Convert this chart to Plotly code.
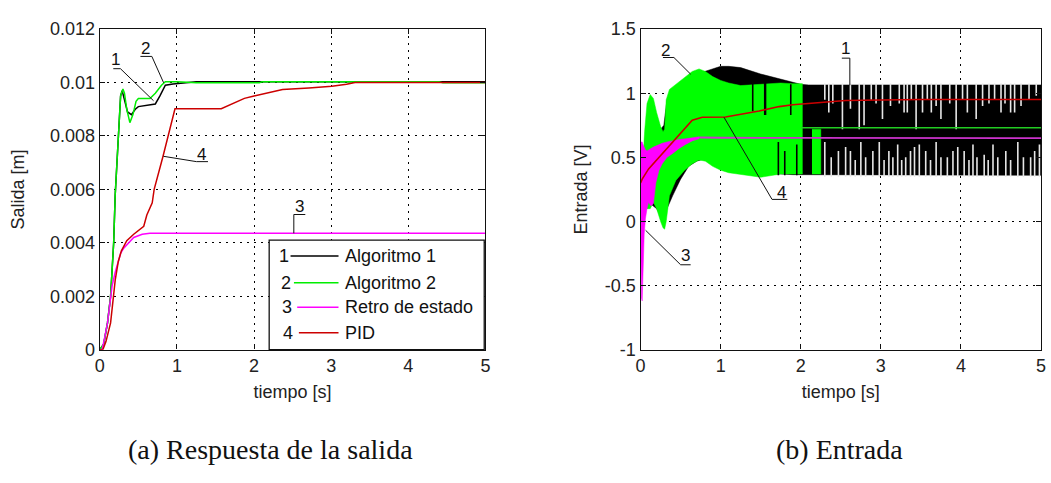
import plotly.graph_objects as go

# ---------------- (a) Respuesta de la salida ----------------
t_alg1 = [0, 0.05, 0.1, 0.14, 0.17, 0.18, 0.2, 0.22, 0.24, 0.27, 0.29, 0.32, 0.36, 0.41,
          0.46, 0.5, 0.72, 0.78, 0.85, 0.95, 1.1, 1.25, 5.0]
y_alg1 = [0, 0.0002, 0.001, 0.002, 0.0035, 0.004, 0.0058, 0.007, 0.008, 0.0095, 0.0097,
          0.0093, 0.0089, 0.0088, 0.009, 0.0091, 0.0092, 0.0095, 0.0099, 0.00995, 0.01,
          0.01003, 0.01003]

t_alg2 = [0, 0.05, 0.1, 0.14, 0.17, 0.18, 0.2, 0.22, 0.24, 0.27, 0.3, 0.32, 0.35, 0.39,
          0.43, 0.47, 0.5, 0.65, 0.72, 0.8, 0.85, 1.0, 1.25, 2.07, 2.1, 4.4, 4.45, 5.0]
y_alg2 = [0, 0.0002, 0.001, 0.002, 0.0035, 0.004, 0.0058, 0.007, 0.008, 0.0095, 0.00976,
          0.0096, 0.009, 0.0085, 0.0088, 0.0093, 0.0094, 0.0094, 0.0096, 0.0099, 0.01003,
          0.01003, 0.00999, 0.00999, 0.01003, 0.01003, 0.00999, 0.00999]

t_retro = [0, 0.03, 0.06, 0.1, 0.13, 0.16, 0.2, 0.23, 0.27, 0.31, 0.37, 0.44, 0.55, 0.65, 5.0]
y_retro = [0, 0, 0.0004, 0.001, 0.0017, 0.0024, 0.0029, 0.0032, 0.0036, 0.0038, 0.004,
           0.0042, 0.00432, 0.004357, 0.004357]

t_pid = [0, 0.04, 0.08, 0.11, 0.14, 0.17, 0.2, 0.24, 0.28, 0.35, 0.44, 0.57, 0.61, 0.68,
         0.705, 0.82, 0.975, 1.575, 1.875, 2.0, 2.37, 2.71, 3.01, 3.2, 3.31, 5.0]
y_pid = [0, 0, 0.0003, 0.0006, 0.001, 0.0018, 0.0026, 0.0033, 0.0037, 0.00408, 0.00432,
         0.00462, 0.00504, 0.0055, 0.006, 0.00724, 0.00902, 0.00902, 0.00941, 0.0095,
         0.00974, 0.0098, 0.00986, 0.00994, 0.01, 0.01]

# ---------------- (b) Entrada ----------------
# Algoritmo 1: envelope of the switching control signal
alg1_t = [0.03, 0.1, 0.2, 0.25, 0.29, 0.33, 0.4, 0.5, 0.6, 0.7, 0.8, 0.9, 1.0, 1.1, 1.25,
          1.5, 1.75, 1.9, 2.0, 2.1, 5.0]
alg1_hi = [0.5, 0.9, 0.75, 0.72, 0.75, 0.95, 1.0, 1.05, 1.1, 1.15, 1.17, 1.19, 1.21, 1.21,
           1.2, 1.15, 1.11, 1.09, 1.07, 1.065, 1.065]
alg1_lo = [0.3, 0.15, 0.1, 0.05, 0.0, 0.1, 0.2, 0.33, 0.43, 0.47, 0.49, 0.44, 0.41, 0.39,
           0.38, 0.37, 0.37, 0.365, 0.36, 0.36, 0.36]
# instants where the switching pauses (upper / lower half of the band)
pause_hi_t = [2.30, 2.35, 2.40, 2.52, 2.62, 2.73, 2.79, 2.88, 2.94, 3.02, 3.12, 3.23, 3.29,
              3.33, 3.38, 3.44, 3.52, 3.58, 3.63, 3.69, 3.75, 3.86, 3.94, 4.02, 4.08, 4.19,
              4.27, 4.35, 4.42, 4.50, 4.55, 4.62, 4.67, 4.75, 4.85, 4.94]
pause_hi_y = [0.95, 0.85, 0.92, 0.72, 0.88, 0.72, 0.75, 0.95, 0.92, 0.80, 0.90, 0.92, 0.85,
              0.85, 0.95, 0.72, 0.85, 0.95, 0.85, 0.90, 0.80, 0.92, 0.72, 0.95, 0.85, 0.80,
              0.90, 0.92, 0.95, 0.85, 0.92, 0.85, 0.85, 0.90, 0.95, 0.98]
pause_lo_t = [2.30, 2.38, 2.47, 2.56, 2.62, 2.68, 2.75, 2.81, 2.90, 2.98, 3.04, 3.10, 3.15,
              3.21, 3.26, 3.31, 3.37, 3.42, 3.48, 3.56, 3.62, 3.69, 3.75, 3.83, 3.90, 3.96,
              4.04, 4.10, 4.15, 4.20, 4.29, 4.34, 4.40, 4.46, 4.56, 4.62, 4.71, 4.78, 4.87,
              4.92, 4.98]
pause_lo_y = [0.62, 0.50, 0.55, 0.58, 0.55, 0.48, 0.62, 0.50, 0.55, 0.62, 0.48, 0.55, 0.50,
              0.60, 0.48, 0.50, 0.55, 0.58, 0.60, 0.55, 0.48, 0.62, 0.50, 0.50, 0.55, 0.58,
              0.55, 0.48, 0.60, 0.50, 0.52, 0.48, 0.60, 0.50, 0.55, 0.48, 0.62, 0.50, 0.50,
              0.55, 0.60]

# Algoritmo 2
alg2_t = [0.03, 0.05, 0.08, 0.12, 0.16, 0.2, 0.25, 0.28, 0.3, 0.32, 0.36, 0.44, 0.55,
          0.645, 0.73, 0.81, 0.9, 1.0, 1.1, 1.25, 1.5, 1.75, 1.9, 2.02]
alg2_hi = [0.45, 0.7, 0.92, 0.99, 0.96, 0.85, 0.74, 0.70, 0.72, 0.95, 1.03, 1.07, 1.12,
           1.17, 1.19, 1.17, 1.13, 1.10, 1.08, 1.06, 1.07, 1.08, 1.075, 1.075]
alg2_lo = [0.25, 0.12, 0.10, 0.10, 0.15, 0.10, 0.0, -0.05, -0.06, 0.0, 0.2, 0.32, 0.40,
           0.45, 0.48, 0.47, 0.43, 0.40, 0.38, 0.365, 0.345, 0.37, 0.37, 0.37]
alg2_tail_t = [2.14, 2.25]
alg2_tail_hi = [0.72, 0.72]
alg2_tail_lo = [0.37, 0.37]
alg2_ss_t = [2.0, 5.0]
alg2_ss_y = [0.731, 0.731]
# short intervals where Algoritmo 2 leaves Algoritmo 1 uncovered
alg2_open_t = [1.40, 1.55, 1.56, 1.72, 1.80, 1.875, 1.95]
alg2_open_lo = [0.86, 0.83, 0.83, 0.36, 0.36, 0.83, 0.36]
alg2_open_hi = [1.11, 1.11, 1.11, 0.62, 0.55, 1.07, 0.60]

# Retro de estado
retro_t = [0.0, 0.005, 0.012, 0.02, 0.03, 0.045, 0.06, 0.08, 0.1, 0.13, 0.16, 0.19, 0.23,
           0.27, 0.33, 0.4, 0.48, 0.56, 0.65, 0.73]
retro_hi = [0.62, 0.62, 0.62, 0.62, 0.6, 0.58, 0.56, 0.55, 0.56, 0.57, 0.58, 0.59, 0.6,
            0.61, 0.62, 0.63, 0.64, 0.645, 0.655, 0.66]
retro_lo = [0.55, -0.3, -0.6, -0.62, -0.45, -0.1, 0.02, 0.1, 0.15, 0.12, 0.14, 0.3, 0.4,
            0.45, 0.5, 0.53, 0.57, 0.6, 0.63, 0.645]
retro_ss_t = [0.73, 1.0, 2.0, 3.0, 4.0, 5.0]
retro_ss_y = [0.655, 0.653, 0.652, 0.652, 0.652, 0.65]

# PID
pid_u_t = [0, 0.02, 0.1, 0.23, 0.44, 0.645, 0.77, 1.06, 1.48, 1.73, 1.9, 2.02, 2.56, 3.0,
           3.5, 5.0]
pid_u_y = [0.3, 0.33, 0.41, 0.50, 0.65, 0.79, 0.813, 0.815, 0.862, 0.896, 0.91, 0.915,
           0.943, 0.948, 0.951, 0.951]

BLACK = "#000000"
GREEN = "#00ee00"
GREEN_FILL = "#00ff00"
MAGENTA = "#ff00ff"
RED = "#cc0000"


def band(t, hi, lo):
    return list(t) + list(t)[::-1], list(hi) + list(lo)[::-1]


def segments(ts, y0s, y1s):
    xs, ys = [], []
    for t, a, b in zip(ts, y0s, y1s):
        xs += [t, t, None]
        ys += [a, b, None]
    return xs, ys


fig = go.Figure()

# left panel curves
for t, y, c in [(t_alg1, y_alg1, BLACK), (t_alg2, y_alg2, GREEN),
                (t_retro, y_retro, MAGENTA), (t_pid, y_pid, RED)]:
    fig.add_trace(go.Scatter(x=t, y=y, mode="lines", line=dict(color=c, width=1.5),
                             xaxis="x", yaxis="y", showlegend=False, hoverinfo="skip"))

# right panel
bx, by = band(alg1_t, alg1_hi, alg1_lo)
fig.add_trace(go.Scatter(x=bx, y=by, fill="toself", fillcolor=BLACK, mode="lines",
                         line=dict(color=BLACK, width=0.5), xaxis="x2", yaxis="y2",
                         showlegend=False, hoverinfo="skip"))
top, bottom = alg1_hi[-1] + 0.012, alg1_lo[-1] - 0.012
px_, py_ = segments(pause_hi_t, [top] * len(pause_hi_t), pause_hi_y)
qx_, qy_ = segments(pause_lo_t, [bottom] * len(pause_lo_t), pause_lo_y)
fig.add_trace(go.Scatter(x=px_ + qx_, y=py_ + qy_, mode="lines",
                         line=dict(color="#e6e6e6", width=1.6), xaxis="x2", yaxis="y2",
                         showlegend=False, hoverinfo="skip"))

gx, gy = band(alg2_t, alg2_hi, alg2_lo)
fig.add_trace(go.Scatter(x=gx, y=gy, fill="toself", fillcolor=GREEN_FILL, mode="lines",
                         line=dict(color=GREEN_FILL, width=0.5), xaxis="x2", yaxis="y2",
                         showlegend=False, hoverinfo="skip"))
gx2, gy2 = band(alg2_tail_t, alg2_tail_hi, alg2_tail_lo)
fig.add_trace(go.Scatter(x=gx2, y=gy2, fill="toself", fillcolor=GREEN_FILL, mode="lines",
                         line=dict(color=GREEN_FILL, width=0.5), xaxis="x2", yaxis="y2",
                         showlegend=False, hoverinfo="skip"))
fig.add_trace(go.Scatter(x=alg2_ss_t, y=alg2_ss_y, mode="lines",
                         line=dict(color="#22cc22", width=1.5), xaxis="x2", yaxis="y2",
                         showlegend=False, hoverinfo="skip"))
ox, oy = segments(alg2_open_t, alg2_open_lo, alg2_open_hi)
fig.add_trace(go.Scatter(x=ox, y=oy, mode="lines", line=dict(color=BLACK, width=1.6),
                         xaxis="x2", yaxis="y2", showlegend=False, hoverinfo="skip"))

mx, my = band(retro_t, retro_hi, retro_lo)
fig.add_trace(go.Scatter(x=mx, y=my, fill="toself", fillcolor=MAGENTA, mode="lines",
                         line=dict(color=MAGENTA, width=0.5), xaxis="x2", yaxis="y2",
                         showlegend=False, hoverinfo="skip"))
fig.add_trace(go.Scatter(x=retro_ss_t, y=retro_ss_y, mode="lines",
                         line=dict(color="#cc33cc", width=1.8), xaxis="x2", yaxis="y2",
                         showlegend=False, hoverinfo="skip"))
fig.add_trace(go.Scatter(x=pid_u_t, y=pid_u_y, mode="lines", line=dict(color=RED, width=1.6),
                         xaxis="x2", yaxis="y2", showlegend=False, hoverinfo="skip"))

TICK_FONT = dict(family="Liberation Sans, Arial, sans-serif", size=18, color="#222222")
TITLE_FONT = dict(family="Liberation Sans, Arial, sans-serif", size=18, color="#222222")
W, H = 1051, 483


def axis_style(**kw):
    d = dict(showline=True, linecolor="#111111", linewidth=1.3, mirror="ticks",
             ticks="inside", ticklen=5, tickcolor="#111111", tickwidth=1,
             showgrid=True, gridcolor="#000000", gridwidth=1, griddash="2px,5px",
             zeroline=False, tickfont=TICK_FONT, fixedrange=True)
    d.update(kw)
    return d


yd = [(H - 354.3) / H, (H - 20) / H]
fig.update_layout(
    width=W, height=H, margin=dict(l=0, r=0, t=0, b=0),
    paper_bgcolor="white", plot_bgcolor="white", showlegend=False,
    xaxis=axis_style(domain=[95.7 / W, 485 / W], range=[0, 5], tickvals=[0, 1, 2, 3, 4, 5],
                     title=dict(text="tiempo [s]", font=TITLE_FONT, standoff=10)),
    yaxis=axis_style(domain=yd, range=[0, 0.012],
                     tickvals=[0, 0.002, 0.004, 0.006, 0.008, 0.01, 0.012],
                     ticktext=["0", "0.002", "0.004", "0.006", "0.008", "0.01", "0.012"],
                     title=dict(text="Salida [m]", font=TITLE_FONT, standoff=20)),
    xaxis2=axis_style(domain=[641.7 / W, 1046 / W], range=[0, 5], anchor="y2",
                      tickvals=[0, 1, 2, 3, 4, 5],
                      title=dict(text="tiempo [s]", font=TITLE_FONT, standoff=10)),
    yaxis2=axis_style(domain=yd, range=[-1, 1.5], anchor="x2",
                      tickvals=[-1, -0.5, 0, 0.5, 1, 1.5],
                      ticktext=["-1", "-0.5", "0", "0.5", "1", "1.5"],
                      title=dict(text="Entrada [V]", font=TITLE_FONT, standoff=12)),
)

shapes = []
annots = []
LBL = dict(family="Liberation Sans, Arial, sans-serif", size=17, color="#111111")


def leader(xref, yref, pts):
    for (x0, y0), (x1, y1) in zip(pts[:-1], pts[1:]):
        shapes.append(dict(type="line", xref=xref, yref=yref, x0=x0, y0=y0, x1=x1, y1=y1,
                           line=dict(color="#111111", width=1)))


def label(xref, yref, x, y, txt):
    annots.append(dict(xref=xref, yref=yref, x=x, y=y, text=txt, showarrow=False,
                       font=LBL, xanchor="center", yanchor="middle"))


# curve labels, left panel
label("x", "y", 0.205, 0.01087, "1")
leader("x", "y", [(0.175, 0.01052), (0.268, 0.01052), (0.697, 0.00932)])
label("x", "y", 0.59, 0.01127, "2")
leader("x", "y", [(0.527, 0.01098), (0.675, 0.01098), (0.825, 0.01001)])
label("x", "y", 1.317, 0.0073, "4")
leader("x", "y", [(0.825, 0.00724), (1.253, 0.00704), (1.403, 0.00704)])
label("x", "y", 2.59, 0.00537, "3")
leader("x", "y", [(2.665, 0.00506), (2.516, 0.00506), (2.516, 0.004357)])

# curve labels, right panel
label("x2", "y2", 0.3125, 1.336, "2")
leader("x2", "y2", [(0.279, 1.279), (0.416, 1.279), (0.625, 1.149)])
label("x2", "y2", 2.5625, 1.349, "1")
leader("x2", "y2", [(2.5125, 1.274), (2.6125, 1.274), (2.6125, 1.063)])
label("x2", "y2", 1.754, 0.229, "4")
leader("x2", "y2", [(1.041, 0.813), (1.641, 0.172), (1.8325, 0.172)])
label("x2", "y2", 0.5625, -0.269, "3")
leader("x2", "y2", [(0.0625, -0.069), (0.5, -0.338), (0.625, -0.338)])

# legend box inside the left panel
shapes.append(dict(type="rect", xref="x domain", yref="y domain", x0=0.4393, x1=0.997,
                   y0=0.0, y1=0.342, line=dict(color="#111111", width=1.3),
                   fillcolor="white", layer="above"))
leg_names = ["Algoritmo 1", "Algoritmo 2", "Retro de estado", "PID"]
leg_colors = [BLACK, GREEN, MAGENTA, RED]
leg_rows = [0.292, 0.209, 0.1325, 0.0526]
leg_num_x = [0.4773, 0.4824, 0.4862, 0.4888]
leg_line_x0 = [0.4947, 0.5035, 0.5119, 0.5163]
LEG_FONT = dict(family="Liberation Sans, Arial, sans-serif", size=18, color="#111111")
for i, (name, col, yr) in enumerate(zip(leg_names, leg_colors, leg_rows)):
    annots.append(dict(xref="x domain", yref="y domain", x=leg_num_x[i], y=yr,
                       text=str(i + 1), showarrow=False, font=LEG_FONT,
                       xanchor="center", yanchor="middle"))
    shapes.append(dict(type="line", xref="x domain", yref="y domain", x0=leg_line_x0[i],
                       x1=0.6191, y0=yr, y1=yr, line=dict(color=col, width=1.5),
                       layer="above"))
    annots.append(dict(xref="x domain", yref="y domain", x=0.6319, y=yr, text=name,
                       showarrow=False, font=LEG_FONT, xanchor="left", yanchor="middle"))

# sub-figure captions
CAP = dict(family="Liberation Serif, Times New Roman, serif", size=28, color="#111111")
annots.append(dict(xref="paper", yref="paper", x=268 / W, y=(H - 458) / H,
                   text="(a) Respuesta de la salida", showarrow=False, font=CAP,
                   xanchor="center", yanchor="middle"))
annots.append(dict(xref="paper", yref="paper", x=843 / W, y=(H - 458) / H,
                   text="(b) Entrada", showarrow=False, font=CAP,
                   xanchor="center", yanchor="middle"))

fig.update_layout(shapes=shapes, annotations=annots)
fig.write_html("out.html")
